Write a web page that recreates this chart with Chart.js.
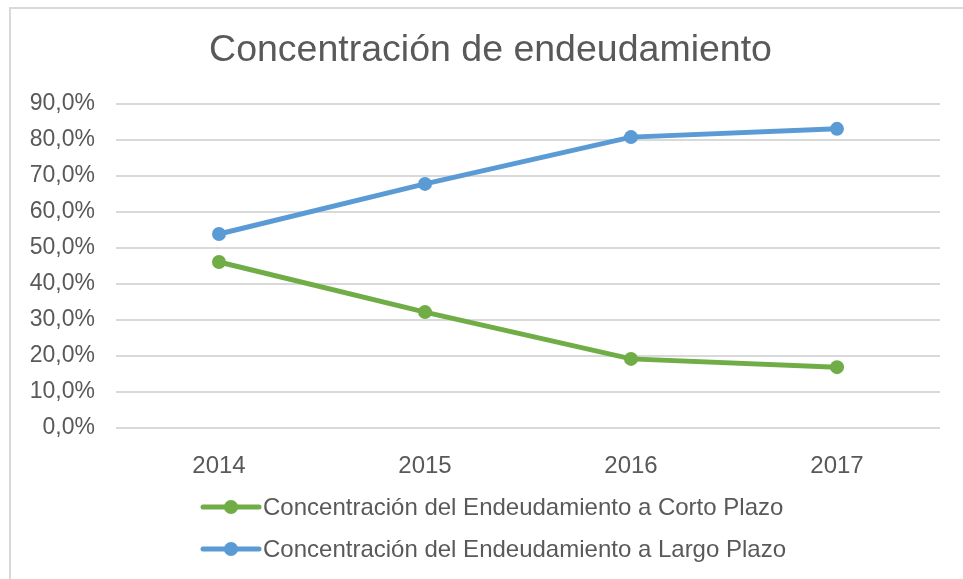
<!DOCTYPE html>
<html>
<head>
<meta charset="utf-8">
<script src="https://cdn.jsdelivr.net/npm/chart.js@4"></script>
<style>
  html, body { margin: 0; padding: 0; background: #fff; overflow: hidden; }
  #frame { position: absolute; left: 9px; top: 7px; width: 1000px; height: 700px; border: 2px solid #d9d9d9; }
  #wrap { position: absolute; left: 9px; top: 7px; width: 963px; height: 579px; }
</style>
</head>
<body>
<div id="frame"></div>
<div id="wrap"><canvas id="chart" width="963" height="579"></canvas></div>
<script>
const years = ['2014', '2015', '2016', '2017'];
const cortoPlazo = [46.1, 32.2, 19.2, 16.9];
const largoPlazo = [53.9, 67.8, 80.8, 83.1];
const seriesNames = [
    'Concentración del Endeudamiento a Corto Plazo',
    'Concentración del Endeudamiento a Largo Plazo'
];
const textColor = '#595959';
const fontFamily = '"Liberation Sans", Arial, sans-serif';

// leyenda dibujada a mano: línea + punto como en Excel
const lineLegend = {
    id: 'lineLegend',
    afterDraw(chart) {
        const ctx = chart.ctx;
        ctx.save();
        ctx.font = '24px ' + fontFamily;
        const markW = 56;
        const startX = 194;
        chart.data.datasets.forEach((ds, i) => {
            const y = 500 + i * 42;
            ctx.strokeStyle = ds.borderColor;
            ctx.lineWidth = 5;
            ctx.lineCap = 'round';
            ctx.beginPath();
            ctx.moveTo(startX, y);
            ctx.lineTo(startX + markW, y);
            ctx.stroke();
            ctx.fillStyle = ds.borderColor;
            ctx.beginPath();
            ctx.arc(startX + markW / 2, y, 7, 0, Math.PI * 2);
            ctx.fill();
            ctx.fillStyle = textColor;
            ctx.textBaseline = 'middle';
            ctx.textAlign = 'left';
            ctx.fillText(ds.label, startX + markW + 4, y + 1);
        });
        ctx.restore();
    }
};

new Chart(document.getElementById('chart'), {
    type: 'line',
    data: {
        labels: years,
        datasets: [{
            label: seriesNames[0],
            data: cortoPlazo,
            borderColor: '#70ad47',
            backgroundColor: '#70ad47',
            borderWidth: 5,
            pointRadius: 7,
            pointBorderWidth: 0,
            tension: 0
        }, {
            label: seriesNames[1],
            data: largoPlazo,
            borderColor: '#5b9bd5',
            backgroundColor: '#5b9bd5',
            borderWidth: 5,
            pointRadius: 7,
            pointBorderWidth: 0,
            tension: 0
        }]
    },
    options: {
        responsive: false,
        animation: false,
        layout: { padding: 0 },
        scales: {
            x: {
                offset: true,
                grid: { display: false },
                border: { display: false },
                ticks: { color: textColor, font: { size: 24, family: fontFamily }, padding: 16 },
                afterFit(scale) { scale.height = 158; }
            },
            y: {
                min: 0,
                max: 90,
                grid: { color: '#d9d9d9', lineWidth: 2, drawTicks: false },
                border: { display: false },
                ticks: {
                    stepSize: 10,
                    color: textColor,
                    font: { size: 23, family: fontFamily },
                    padding: 21,
                    callback: v => v.toFixed(1).replace('.', ',') + '%'
                },
                afterFit(scale) { scale.width = 107; }
            },
            // eje vacío a la derecha, solo reserva margen
            yRight: {
                position: 'right',
                grid: { display: false },
                border: { display: false },
                ticks: { display: false },
                afterFit(scale) { scale.width = 32; }
            }
        },
        plugins: {
            legend: { display: false },
            tooltip: { enabled: false },
            title: {
                display: true,
                text: 'Concentración de endeudamiento',
                color: textColor,
                font: { size: 37.5, weight: 'normal', family: fontFamily },
                padding: { top: 21, bottom: 31 }
            }
        }
    },
    plugins: [lineLegend]
});
</script>
</body>
</html>
